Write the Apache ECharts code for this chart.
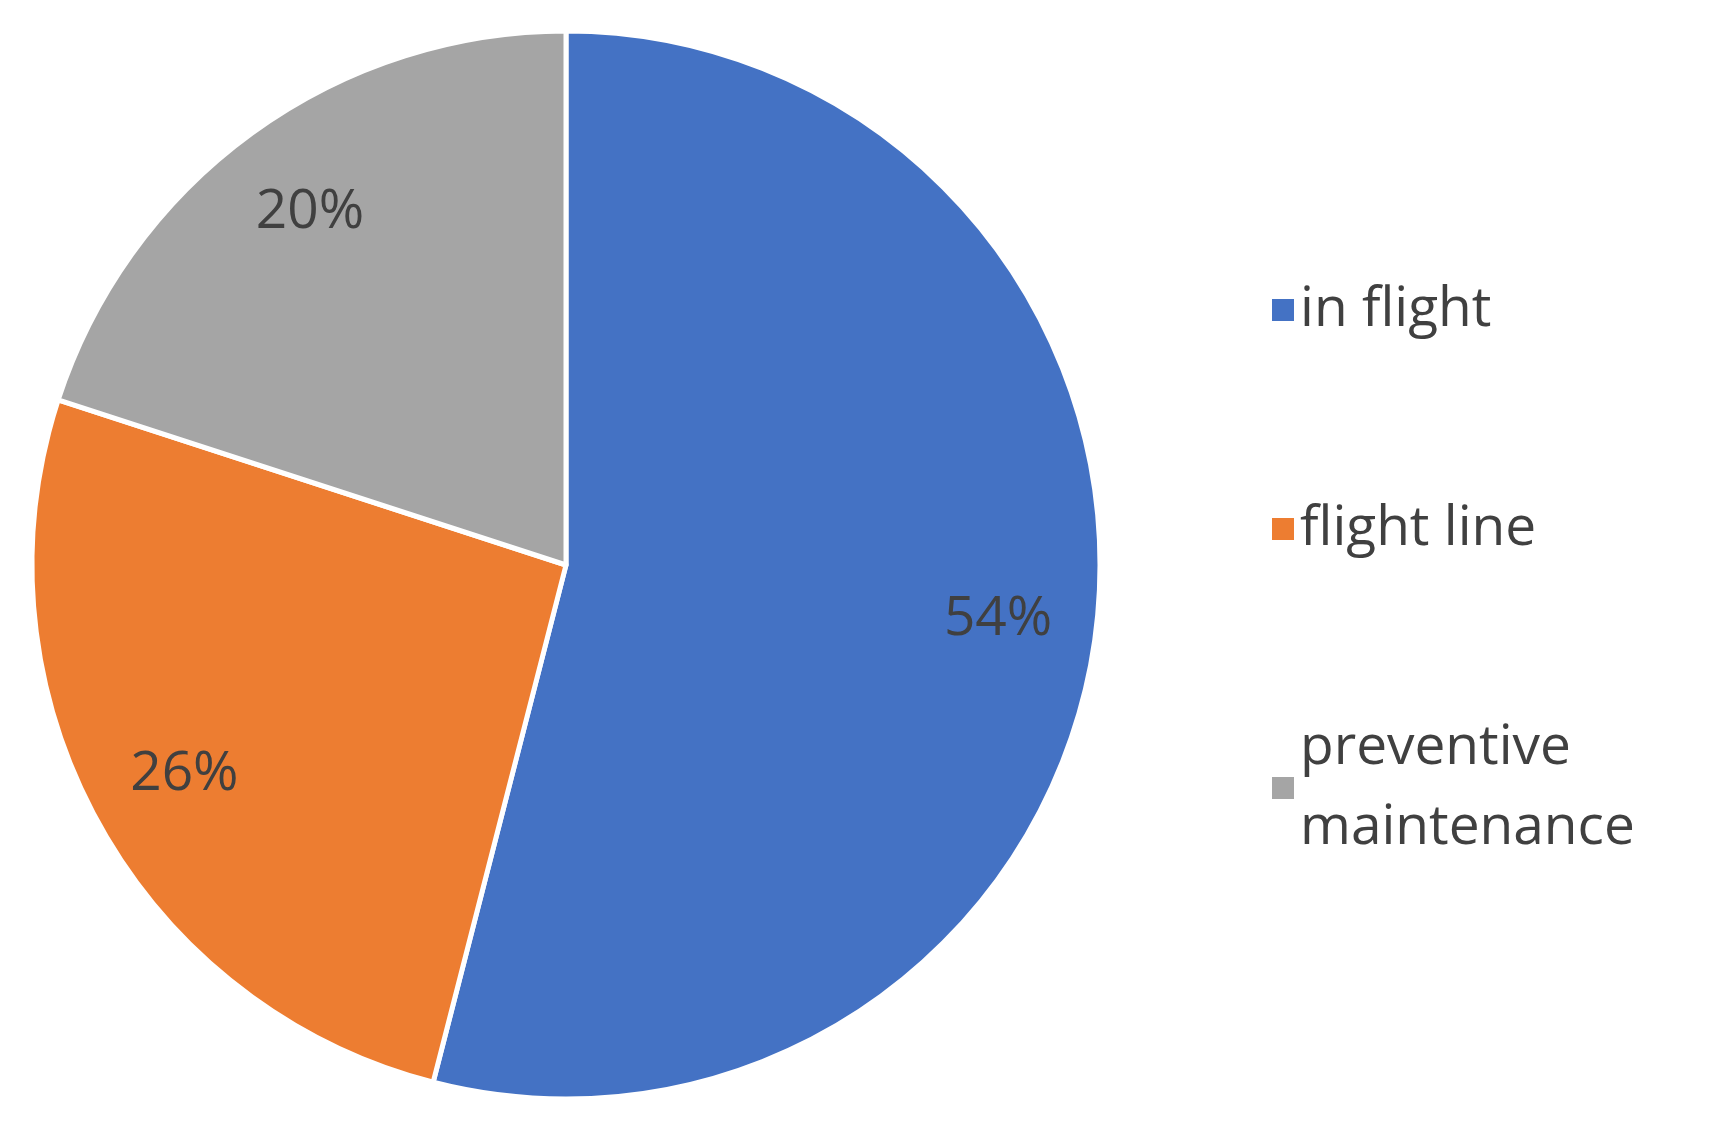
<!DOCTYPE html>
<html>
<head>
<meta charset="utf-8">
<script src="https://cdn.jsdelivr.net/npm/echarts@6/dist/echarts.min.js"></script>
<style>html,body{margin:0;padding:0;background:#fff}#chart{width:1713px;height:1126px}</style>
</head>
<body>
<div id="chart"></div>
<script>
var categories = ['in flight', 'flight line', 'preventive\nmaintenance'];
var values = [54, 26, 20];
var colors = ['#4472C4', '#ED7D31', '#A5A5A5'];

var chart = echarts.init(document.getElementById('chart'));

var pieData = categories.map(function (c, i) {
    return { name: c, value: values[i], itemStyle: { color: colors[i] } };
});

var option = {
    animation: false,
    legend: {
        orient: 'vertical',
        left: 1265,
        top: 265,
        itemWidth: 24,
        itemHeight: 24,
        itemGap: 139,
        icon: 'rect',
        data: categories,
        textStyle: { fontFamily: 'Open Sans', fontSize: 55, color: '#404040', lineHeight: 80 }
    },
    series: [
        {
            type: 'pie',
            center: [566, 565],
            radius: [0, 534],
            startAngle: 90,
            clockwise: true,
            itemStyle: { borderColor: '#fff', borderWidth: 5 },
            label: { show: false },
            labelLine: { show: false },
            data: pieData
        },
        {
            // invisible ring used only to place the percentage labels
            type: 'pie',
            center: [566, 565],
            radius: [0, 865],
            startAngle: 90,
            clockwise: true,
            silent: true,
            itemStyle: { color: 'rgba(0,0,0,0)' },
            label: {
                show: true,
                position: 'inside',
                formatter: '{c}%',
                fontFamily: 'Open Sans',
                fontSize: 55,
                color: '#404040'
            },
            labelLine: { show: false },
            data: categories.map(function (c, i) {
                return { name: c, value: values[i], itemStyle: { color: 'rgba(0,0,0,0)' } };
            })
        }
    ]
};

chart.setOption(option);
</script>
</body>
</html>
